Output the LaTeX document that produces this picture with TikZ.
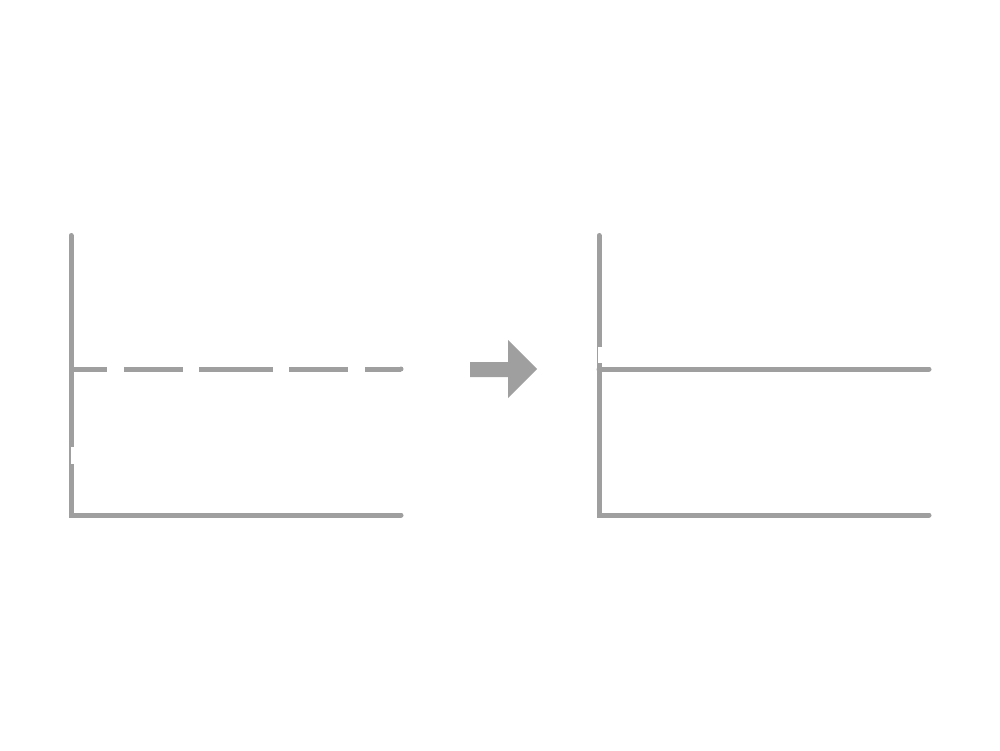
\documentclass[tikz,border=0pt]{standalone}
\begin{document}
\begin{tikzpicture}[x=1pt,y=-1pt,
  ax/.style={draw=linegray,line width=5pt,line cap=round,line join=miter},
  dsh/.style={draw=linegray,line width=5pt,line cap=butt},
  notch/.style={fill=white,draw=none}]
\definecolor{linegray}{RGB}{159,159,159}
\useasboundingbox (0,0) rectangle (1000,751);
% left chart
\coordinate (lt) at (71,235.5);
\coordinate (lo) at (71,515);
\coordinate (lr) at (401,515);
\draw[ax] (lt) -- (lo) -- (lr);
\draw[dsh] (71,369) -- (107,369);
\draw[dsh] (124,369) -- (183,369);
\draw[dsh] (199,369) -- (273,369);
\draw[dsh] (289,369) -- (348,369);
\draw[dsh] (365,369) -- (401,369);
\fill[linegray] (401,369) circle (2.5);
\fill[notch] (70.5,447) rectangle (74,464);
% arrow
\fill[linegray] (470,362) -- (508,362) -- (508,340) -- (537,369) -- (508,398) -- (508,377) -- (470,377) -- cycle;
% right chart
\coordinate (rt) at (599,235.5);
\coordinate (ro) at (599,515);
\coordinate (rr) at (929,515);
\coordinate (rm) at (599,369);
\coordinate (rme) at (929,369);
\draw[ax] (rt) -- (ro) -- (rr);
\draw[ax] (rm) -- (rme);
\fill[notch] (598,347) rectangle (601.5,363);
\end{tikzpicture}
\end{document}
